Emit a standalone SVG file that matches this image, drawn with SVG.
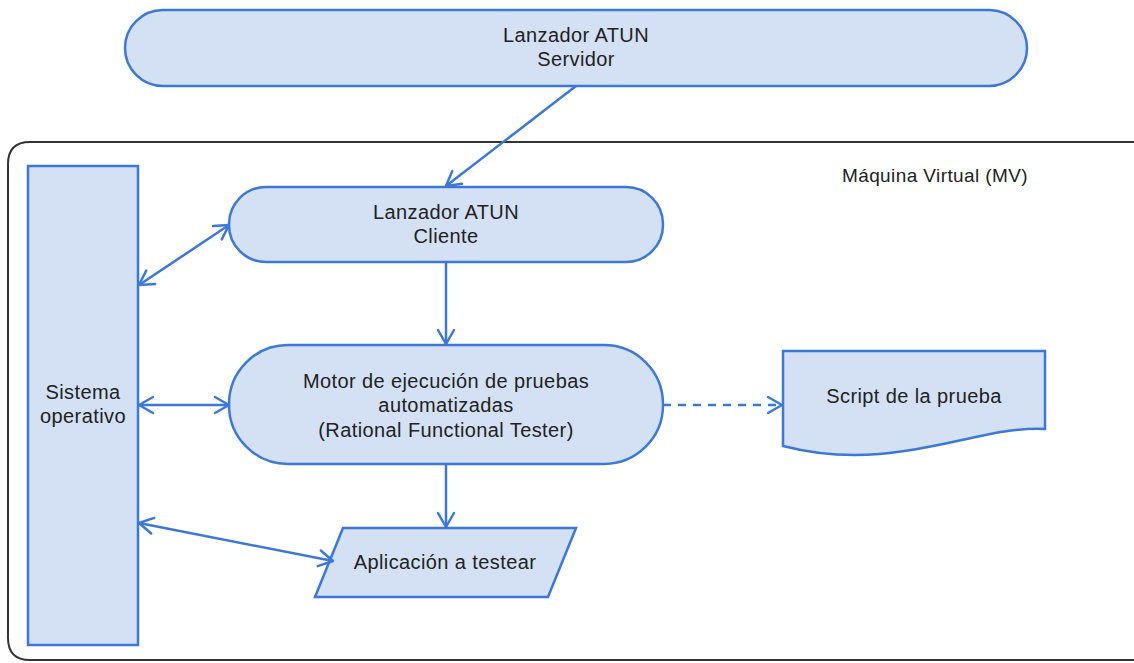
<svg xmlns="http://www.w3.org/2000/svg" width="1134" height="663" viewBox="0 0 1134 663">
<defs>
<style>
.n{fill:#d4e1f5;stroke:#3c78d8;stroke-width:2.5}
.t{font-family:"Liberation Sans",Arial,sans-serif;font-size:20px;letter-spacing:0.4px;fill:#222;text-anchor:middle}
.c{fill:none;stroke:#3c78d8;stroke-width:2.5}
</style>
<marker id="a" markerUnits="userSpaceOnUse" markerWidth="20" markerHeight="20" viewBox="0 0 20 20" refX="18" refY="10" orient="auto-start-reverse">
<path d="M4,2 L18,10 L4,18" fill="none" stroke="#3c78d8" stroke-width="2.5" stroke-linecap="round" stroke-linejoin="round"/>
</marker>
</defs>
<rect x="0" y="0" width="1134" height="663" fill="#fff"/>
<g id="mv">
<path d="M1140,142 L30,142 Q8,142 8,164 L8,638 Q8,660 30,660 L1140,660" fill="none" stroke="#333" stroke-width="2"/>
<text class="t" x="935" y="182" style="font-size:19px">Máquina Virtual (MV)</text>
</g>
<g id="servidor">
<rect class="n" x="125" y="10" width="902" height="76" rx="38"/>
<text class="t" x="576" y="42">Lanzador ATUN</text>
<text class="t" x="576" y="66">Servidor</text>
</g>
<g id="so">
<rect class="n" x="28" y="166" width="110" height="479"/>
<text class="t" x="83" y="399">Sistema</text>
<text class="t" x="83" y="423">operativo</text>
</g>
<g id="cliente">
<rect class="n" x="229" y="187" width="434" height="75" rx="37"/>
<text class="t" x="446" y="219">Lanzador ATUN</text>
<text class="t" x="446" y="243">Cliente</text>
</g>
<g id="motor">
<rect class="n" x="229" y="345" width="434" height="119" rx="59"/>
<text class="t" x="446" y="388">Motor de ejecución de pruebas</text>
<text class="t" x="446" y="412">automatizadas</text>
<text class="t" x="446" y="437">(Rational Functional Tester)</text>
</g>
<g id="script">
<path class="n" d="M783,351 L1045,351 L1045,429 C975,425 895,475 783,446 Z"/>
<text class="t" x="914" y="403">Script de la prueba</text>
</g>
<g id="aplicacion">
<path class="n" d="M343,528 L576,528 L548,597 L315,597 Z"/>
<text class="t" x="445" y="569">Aplicación a testear</text>
</g>
<g id="connectors">
<line class="c" x1="576" y1="86" x2="446" y2="186" marker-end="url(#a)"/>
<line class="c" x1="229" y1="225" x2="139" y2="285" marker-start="url(#a)" marker-end="url(#a)"/>
<line class="c" x1="446" y1="262" x2="446" y2="344" marker-end="url(#a)"/>
<line class="c" x1="229" y1="405" x2="139" y2="405" marker-start="url(#a)" marker-end="url(#a)"/>
<line class="c" x1="663" y1="405" x2="782" y2="405" stroke-dasharray="8,7" marker-end="url(#a)"/>
<line class="c" x1="446" y1="464" x2="446" y2="527" marker-end="url(#a)"/>
<line class="c" x1="139" y1="523" x2="333" y2="561" marker-start="url(#a)" marker-end="url(#a)"/>
</g>
</svg>
